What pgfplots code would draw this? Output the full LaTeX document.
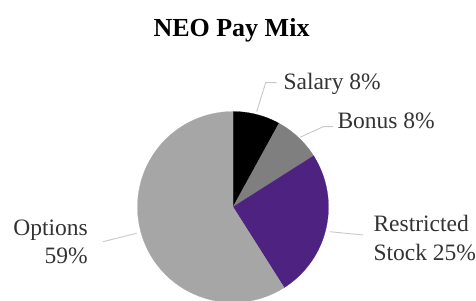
\documentclass[border=0pt]{standalone}
\usepackage{fontspec}
\setmainfont{Liberation Serif}
\usepackage{pgfplots}
\usepackage{pgfplotstable}
\pgfplotsset{compat=1.18}
\definecolor{cSalary}{HTML}{000000}
\definecolor{cBonus}{HTML}{7F7F7F}
\definecolor{cRS}{HTML}{4E2281}
\definecolor{cOpt}{HTML}{A6A6A6}
\definecolor{cLead}{HTML}{C8C8C8}
\definecolor{cText}{HTML}{333333}
\pgfplotstableread{
label value
Salary 8
Bonus 8
Restricted 25
Options 59
}\piedata
\begin{document}
\begin{tikzpicture}
\path[use as bounding box] (0,0) rectangle (476pt,300pt);
\pgfplotstablegetelem{0}{value}\of\piedata \let\vA\pgfplotsretval
\pgfplotstablegetelem{1}{value}\of\piedata \let\vB\pgfplotsretval
\pgfplotstablegetelem{2}{value}\of\piedata \let\vC\pgfplotsretval
\pgfplotstablegetelem{3}{value}\of\piedata \let\vD\pgfplotsretval
\pgfmathsetmacro\aA{90}
\pgfmathsetmacro\aB{\aA-3.6*\vA}
\pgfmathsetmacro\aC{\aB-3.6*\vB}
\pgfmathsetmacro\aD{\aC-3.6*\vC}
\pgfmathsetmacro\aE{\aD-3.6*\vD}
\begin{axis}[at={(233pt,93pt)}, anchor=origin, x=95.5pt, y=95.5pt,
  xmin=-1.5, xmax=1.5, ymin=-1.5, ymax=1.5, hide axis, clip=false]
\addplot[fill=cSalary, draw=cSalary, line width=0.2pt, domain=\aB:\aA, samples=30] ({cos(x)},{sin(x)}) -- (axis cs:0,0) -- cycle;
\addplot[fill=cBonus, draw=cBonus, line width=0.2pt, domain=\aC:\aB, samples=30] ({cos(x)},{sin(x)}) -- (axis cs:0,0) -- cycle;
\addplot[fill=cRS, draw=cRS, line width=0.2pt, domain=\aD:\aC, samples=60] ({cos(x)},{sin(x)}) -- (axis cs:0,0) -- cycle;
\addplot[fill=cOpt, draw=cOpt, line width=0.2pt, domain=\aE:\aD, samples=120] ({cos(x)},{sin(x)}) -- (axis cs:0,0) -- cycle;
% leader lines
\addplot[cLead, line width=0.9pt, mark=none] coordinates {(0.248,0.998) (0.342,1.302) (0.458,1.302)};
\addplot[cLead, line width=0.9pt, mark=none] coordinates {(0.702,0.730) (0.946,0.841) (1.047,0.841)};
\addplot[cLead, line width=0.9pt, mark=none] coordinates {(1.016,-0.259) (1.364,-0.293)};
\addplot[cLead, line width=0.9pt, mark=none] coordinates {(-1.008,-0.275) (-1.361,-0.363)};
\end{axis}
\node[anchor=base, inner sep=0pt, font=\fontsize{26}{31}\selectfont\bfseries] at (231.5pt,263.3pt) {NEO Pay Mix};
\begin{scope}[every node/.style={inner sep=0pt, text=cText, font=\fontsize{23.5}{28.3}\selectfont}]
\node[anchor=base west] at (283.3pt,210pt) {Salary 8\%};
\node[anchor=base west] at (337.3pt,171.7pt) {Bonus 8\%};
\node[anchor=base west] at (373.3pt,68.3pt) {Restricted};
\node[anchor=base west] at (373.3pt,40pt) {Stock 25\%};
\node[anchor=base east] at (88pt,65pt) {Options};
\node[anchor=base east] at (88pt,36.7pt) {59\%};
\end{scope}
\end{tikzpicture}
\end{document}
